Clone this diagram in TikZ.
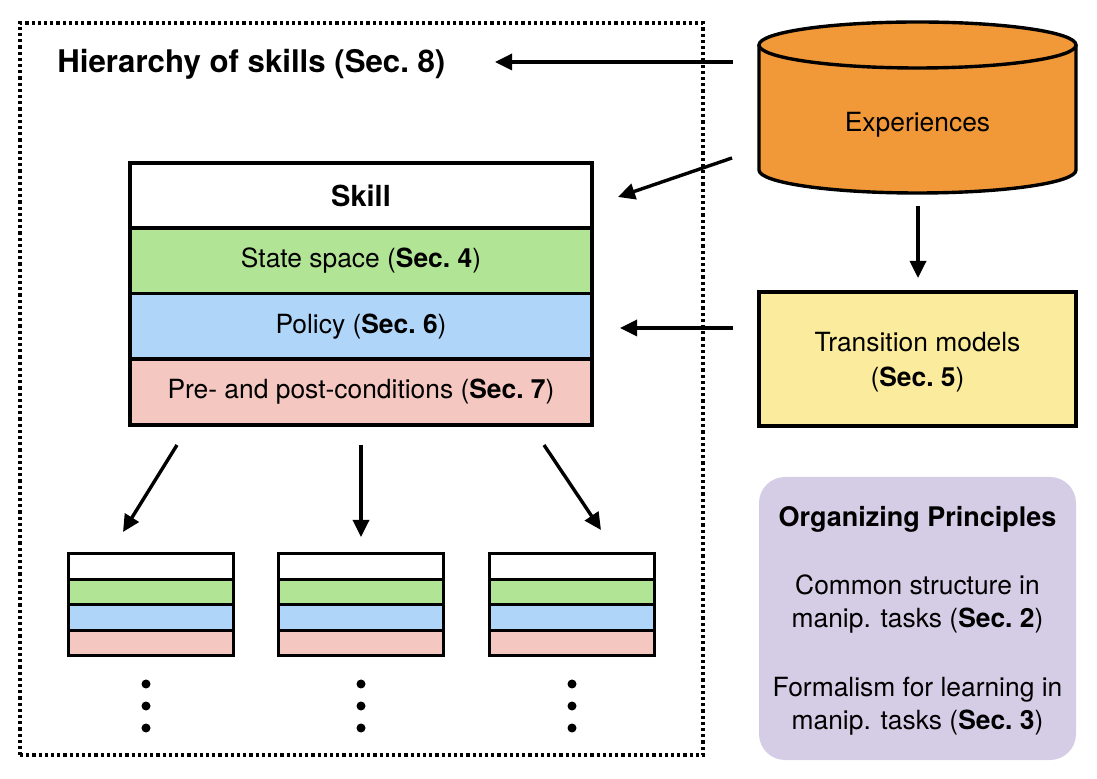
\documentclass[tikz,border=0pt]{standalone}
\usepackage{fontspec}
\setmainfont{TeX Gyre Heros}
\usetikzlibrary{arrows.meta}
\definecolor{cgreen}{HTML}{B2E496}
\definecolor{cblue}{HTML}{AFD5F9}
\definecolor{cpink}{HTML}{F4C7C0}
\definecolor{corange}{HTML}{F19838}
\definecolor{cyellow}{HTML}{FBEB9C}
\definecolor{clav}{HTML}{D5CDE6}
\begin{document}
\begin{tikzpicture}[x=0.5pt,y=-0.5pt,
  arr/.style={line width=1.7pt,-{Triangle[length=8.5pt,width=8pt]}},
  bigrow/.style={draw, line width=1.8pt, minimum width=231pt, minimum height=33pt, inner sep=0pt, font=\fontsize{13.2}{16}\selectfont},
  smallrow/.style={draw, line width=1.5pt, minimum width=82.5pt, minimum height=12.75pt, inner sep=0pt},
  body/.style={font=\fontsize{13.2}{16.5}\selectfont, inner sep=0pt, align=center},
  frame/.style={draw, line width=1.7pt, dash pattern=on 1.6pt off 1.5pt, inner sep=0pt},
  dotmark/.style={fill=black}
]
\useasboundingbox (0,0) rectangle (1097,779);

% dotted frame
\node[frame, minimum width=341.5pt, minimum height=366pt] (fr) at (361.5,389) {};

% title
\node[font=\bfseries\fontsize{15.6}{18}\selectfont, anchor=base west, inner sep=0pt] (title) at (57,73) {Hierarchy of skills (Sec.~8)};

% skill block
\node[bigrow, fill=white, font=\bfseries\fontsize{14.5}{17}\selectfont] (skill) at (361,196) {Skill};
\node[bigrow, fill=cgreen] (state) at (361,261) {State space (\textbf{Sec.~4})};
\node[bigrow, fill=cblue] (policy) at (361,326.5) {Policy (\textbf{Sec.~6})};
\node[bigrow, fill=cpink] (pre) at (361,392) {Pre- and post-conditions (\textbf{Sec.~7})};

% cylinder
\fill[corange] (759,45) -- (759,170) arc[start angle=180, end angle=0, x radius=158.5, y radius=23] -- (1076,45) -- cycle;
\draw[line width=1.7pt] (759,45) -- (759,170) arc[start angle=180, end angle=0, x radius=158.5, y radius=23] -- (1076,45);
\draw[line width=1.7pt, fill=corange] (917.5,45) ellipse [x radius=158.5, y radius=23];
\node[body, anchor=base] (exp) at (917.5,132) {Experiences};

% transition models
\node[draw, line width=1.8pt, fill=cyellow, minimum width=158.5pt, minimum height=67pt, inner sep=0pt] (trans) at (917.5,359) {};
\node[body, font=\fontsize{13.2}{17.5}\selectfont] (transtxt) at (917.5,362) {Transition models\\(\textbf{Sec.~5})};

% connector end points
\coordinate (e1s) at (733,62);
\coordinate (e1t) at (495,62);
\coordinate (e2s) at (732,158);
\coordinate (e2t) at (618,197);
\coordinate (e3s) at (918,206);
\coordinate (e3t) at (918,278);
\coordinate (t1s) at (733,328);
\coordinate (t1t) at (620,328);
\coordinate (d1s) at (177,445);
\coordinate (d1t) at (123,532);
\coordinate (d2s) at (361,445);
\coordinate (d2t) at (361,537);
\coordinate (d3s) at (544,445);
\coordinate (d3t) at (601,530);

\draw[arr] (e1s) -- (e1t);
\draw[arr] (e2s) -- (e2t);
\draw[arr] (e3s) -- (e3t);
\draw[arr] (t1s) -- (t1t);
\draw[arr] (d1s) -- (d1t);
\draw[arr] (d2s) -- (d2t);
\draw[arr] (d3s) -- (d3t);

% small skill stacks
\foreach \i/\cx/\dx in {1/151/146, 2/360.5/361, 3/571.5/572}{
  \node[smallrow, fill=white]  (s\i a) at (\cx,566.75) {};
  \node[smallrow, fill=cgreen] (s\i b) at (\cx,592.25) {};
  \node[smallrow, fill=cblue]  (s\i c) at (\cx,617.75) {};
  \node[smallrow, fill=cpink]  (s\i d) at (\cx,643.25) {};
  \fill[dotmark] (\dx,684) circle [radius=4.5];
  \fill[dotmark] (\dx,706) circle [radius=4.5];
  \fill[dotmark] (\dx,728) circle [radius=4.5];
}

% organizing principles
\node[fill=clav, rounded corners=13pt, minimum width=158.5pt, minimum height=141.5pt, inner sep=0pt] (org) at (917.5,618.5) {};
\node[body, font=\bfseries\fontsize{13.5}{16.5}\selectfont, anchor=base] (orgt) at (917.5,527) {Organizing Principles};
\node[body] (org1) at (917.5,604.5) {Common structure in\\manip. tasks (\textbf{Sec.~2})};
\node[body] (org2) at (917.5,706.5) {Formalism for learning in\\manip. tasks (\textbf{Sec.~3})};
\end{tikzpicture}
\end{document}
